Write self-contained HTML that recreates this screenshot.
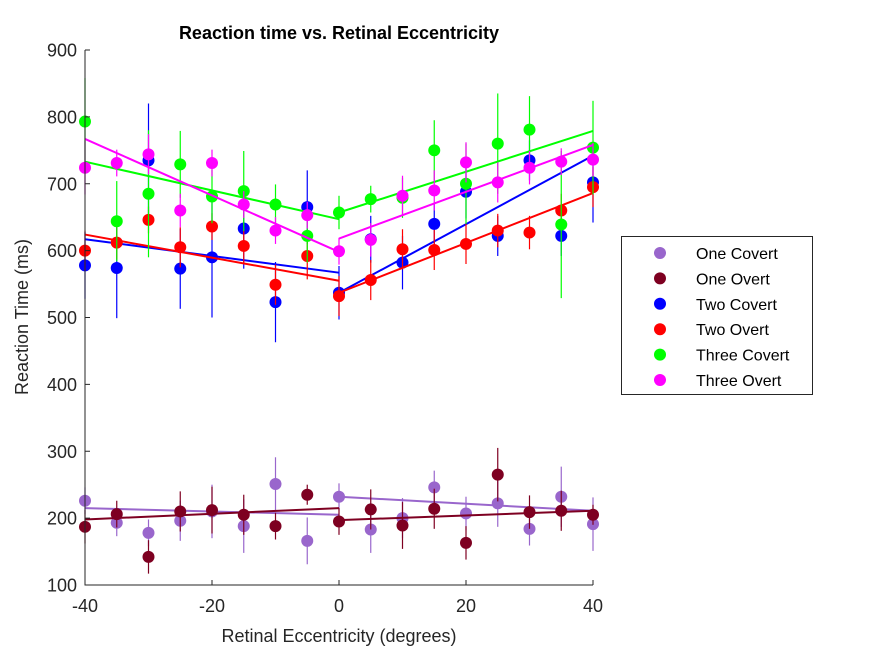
<!DOCTYPE html>
<html><head><meta charset="utf-8"><style>
body{margin:0;background:#fff;}
svg{display:block;font-family:"Liberation Sans",Arial,sans-serif;}
</style></head><body>
<svg id="chart" width="875" height="656" viewBox="0 0 875 656" xmlns="http://www.w3.org/2000/svg">
<rect width="875" height="656" fill="#fff"/>
<text x="339" y="39" text-anchor="middle" font-size="18" font-weight="bold" fill="#000">Reaction time vs. Retinal Eccentricity</text>
<text transform="translate(28,317) rotate(-90)" text-anchor="middle" font-size="18" fill="#262626">Reaction Time (ms)</text>
<text x="339" y="642" text-anchor="middle" font-size="18" fill="#262626">Retinal Eccentricity (degrees)</text>
<g id="plot"></g>
<g id="axes"></g>
<g id="legend"></g>
</svg>
<script>
const xValues=[-40,-35,-30,-25,-20,-15,-10,-5,0,5,10,15,20,25,30,35,40];
const xTicks=[-40,-20,0,20,40];
const yTicks=[100,200,300,400,500,600,700,800,900];
const seriesNames=["One Covert","One Overt","Two Covert","Two Overt","Three Covert","Three Overt"];
const seriesColors=["#9966CC","#7E0021","#0000FF","#FF0000","#00FF00","#FF00FF"];
const oneCovert=[226,193,178,196,210,188,251,166,232,183,200,246,207,222,184,232,191];
const oneOvert=[187,206,142,210,212,205,188,235,195,213,189,214,163,265,209,211,205];
const twoCovert=[578,574,735,573,590,633,523,665,537,617,582,640,688,622,735,622,702];
const twoOvert=[600,612,646,605,636,607,549,592,532,556,602,601,610,630,627,660,695];
const threeCovert=[793,644,685,729,681,689,669,622,657,677,679,750,700,760,781,639,754];
const threeOvert=[724,731,744,660,731,669,630,653,599,616,682,690,732,702,724,733,736];
const oneCovertErr=[20,20,20,30,40,40,40,35,20,35,30,25,25,35,25,45,40];
const oneOvertErr=[25,20,25,30,35,30,20,15,20,30,35,30,25,40,25,30,15];
const twoCovertErr=[50,75,85,60,90,60,60,55,40,35,40,30,40,30,30,30,60];
const twoOvertErr=[30,25,20,30,20,25,30,35,30,30,30,30,30,25,25,25,30];
const threeCovertErr=[65,60,95,50,40,60,30,40,25,20,30,45,60,75,50,110,70];
const threeOvertErr=[40,20,30,25,20,20,20,20,20,25,30,30,30,30,25,20,25];
// fit lines: [left at -40, left at 0, right at 0, right at 40]
const oneCovertFit=[215,205,232,211];
const oneOvertFit=[198,215,197,211];
const twoCovertFit=[617,567,537,742];
const twoOvertFit=[624,555,537,686];
const threeCovertFit=[733,647,657,779];
const threeOvertFit=[767,598,618,758];

const values=[oneCovert,oneOvert,twoCovert,twoOvert,threeCovert,threeOvert];
const errs=[oneCovertErr,oneOvertErr,twoCovertErr,twoOvertErr,threeCovertErr,threeOvertErr];
const fits=[oneCovertFit,oneOvertFit,twoCovertFit,twoOvertFit,threeCovertFit,threeOvertFit];
const X0=85,X1=593,Y0=585,Y1=50;
function xs(v){return X0+(v+40)/80*(X1-X0);}
function ys(v){return Y0-(v-100)/800*(Y0-Y1);}
const NS="http://www.w3.org/2000/svg";
function mk(t,a,p){const e=document.createElementNS(NS,t);for(const k in a)e.setAttribute(k,a[k]);p.appendChild(e);return e;}
const plot=document.getElementById('plot'),axes=document.getElementById('axes'),legend=document.getElementById('legend');
values.forEach((vals,s)=>{
  const c=seriesColors[s];
  const g=mk('g',{},plot);
  
  
  vals.forEach((v,i)=>{
    const eb=mk('line',{x1:xs(xValues[i]),x2:xs(xValues[i]),y1:ys(v-errs[s][i]),y2:ys(v+errs[s][i]),stroke:c,'stroke-width':1.2},g);
    
    
  });
  const f=fits[s];
  const l1=mk('line',{x1:xs(-40),y1:ys(f[0]),x2:xs(0),y2:ys(f[1]),stroke:c,'stroke-width':2},g);
  
  
  const l2=mk('line',{x1:xs(0),y1:ys(f[2]),x2:xs(40),y2:ys(f[3]),stroke:c,'stroke-width':2},g);
  
  
  vals.forEach((v,i)=>{
    const p=mk('circle',{cx:xs(xValues[i]),cy:ys(v),r:6,fill:c},g);
    
    
  });
});
const ax=mk('path',{d:`M${X0},${Y1}V${Y0}H${X1}`,fill:'none',stroke:'#262626','stroke-width':1},axes);


xTicks.forEach(t=>{
  const x=xs(t);
  mk('line',{x1:x,x2:x,y1:Y0,y2:Y0-5,stroke:'#262626'},axes);
  const tx=mk('text',{x:x,y:Y0+27,'text-anchor':'middle','font-size':18,fill:'#262626'},axes);
  tx.textContent=t;
  
  
});
yTicks.forEach(t=>{
  const y=ys(t);
  mk('line',{x1:X0,x2:X0+5,y1:y,y2:y,stroke:'#262626'},axes);
  const tx=mk('text',{x:X0-8,y:y+6.5,'text-anchor':'end','font-size':18,fill:'#262626'},axes);
  tx.textContent=t;
  
  
});
const lb=mk('rect',{x:621.5,y:236.5,width:191,height:158,fill:'#fff',stroke:'#262626'},legend);


seriesNames.forEach((n,i)=>{
  const y=253+i*25.4;
  const g=mk('g',{},legend);
  
  
  mk('circle',{cx:660,cy:y,r:6,fill:seriesColors[i]},g);
  const t=mk('text',{x:696,y:y+6,'font-size':16,fill:'#000'},g);
  t.textContent=n;
});
</script>
</body></html>
